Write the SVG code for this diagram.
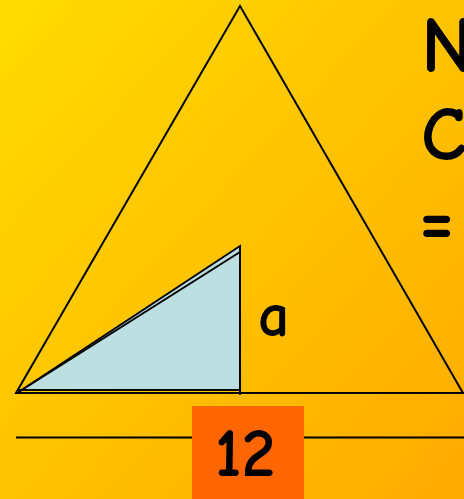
<svg xmlns="http://www.w3.org/2000/svg" width="464" height="499" viewBox="0 0 464 499">
<defs>
<linearGradient id="bg" x1="0" y1="0" x2="1" y2="1">
<stop offset="0" stop-color="#FFDC00"/>
<stop offset="1" stop-color="#FFAA00"/>
</linearGradient>
<style>
.ln{stroke:#000;stroke-width:2;fill:none}
.t{font-family:"Comic Sans MS","Comic Neue","DejaVu Sans",sans-serif;font-weight:bold;fill:#000}
</style>
</defs>
<rect width="464" height="499" fill="url(#bg)"/>
<g id="big-triangle">
<polygon points="240,6 16,393 463,393" class="ln" stroke-width="1.8"/>
</g>
<g id="small-triangle">
<polygon points="17,393 240,246 240,390 17,390" fill="#BCDFE2" stroke="none"/>
<polyline points="17,393 240,246 240,395" class="ln"/>
<line x1="17" y1="393" x2="240" y2="252" class="ln"/>
<line x1="17" y1="390" x2="240" y2="390" class="ln"/>
<line x1="16" y1="393" x2="464" y2="393" class="ln"/>
</g>
<g id="label-a">
<text x="258" y="336" class="t" font-size="62">a</text>
</g>
<g id="base-line">
<line x1="16" y1="437.5" x2="192" y2="437.5" class="ln"/>
<line x1="304" y1="437.5" x2="464" y2="437.5" class="ln"/>
</g>
<g id="box-12">
<rect x="192" y="406" width="112" height="93" fill="#FF6600"/>
<text x="245" y="476" class="t" font-size="68" text-anchor="middle">12</text>
</g>
<g id="side-text">
<text x="421" y="72" class="t" font-size="80">N</text>
<text x="421" y="160" class="t" font-size="76">C</text>
<text x="419" y="245" class="t" font-size="76">=</text>
</g>
</svg>
